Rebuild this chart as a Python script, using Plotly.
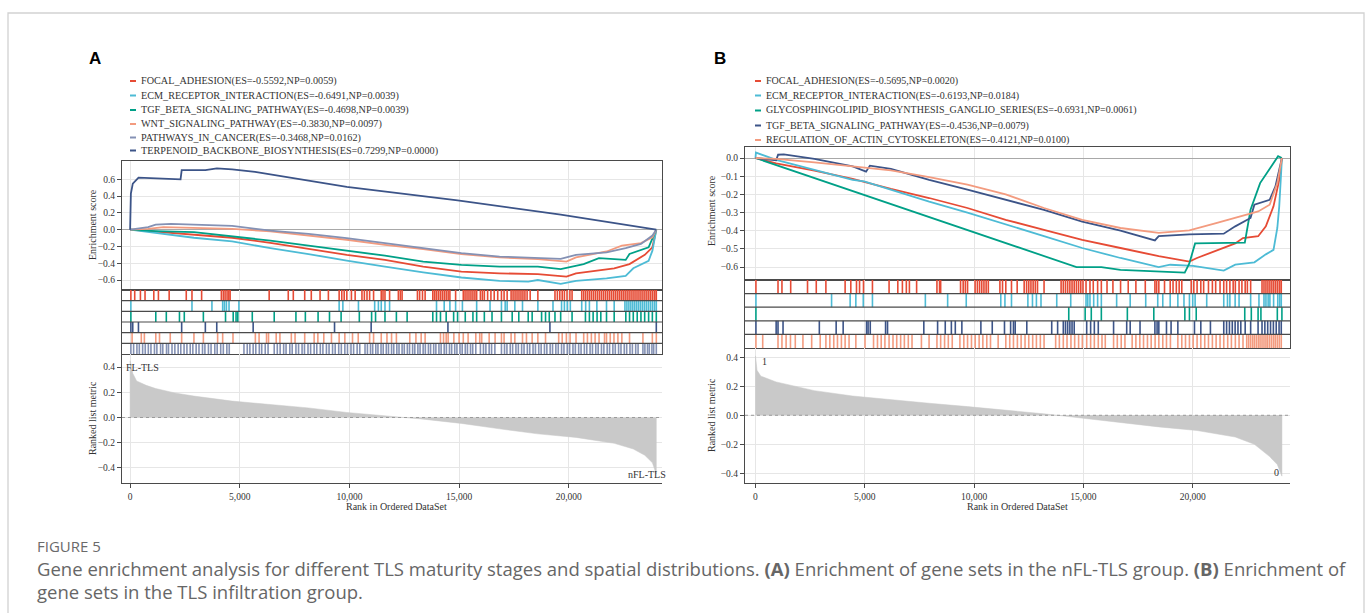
import plotly.graph_objects as go

W, H = 1372, 613

# ---------------- Panel A data ----------------
A_names = ["FOCAL_ADHESION", "ECM_RECEPTOR_INTERACTION", "TGF_BETA_SIGNALING_PATHWAY",
           "WNT_SIGNALING_PATHWAY", "PATHWAYS_IN_CANCER", "TERPENOID_BACKBONE_BIOSYNTHESIS"]
A_es = [-0.5592, -0.6491, -0.4698, -0.3830, -0.3468, 0.7299]
A_np = [0.0059, 0.0039, 0.0039, 0.0097, 0.0162, 0.0000]

A_focal_rank = [0, 1167, 2909, 4651, 6393, 8135, 9877, 11619, 13361, 15103, 16845, 18587, 19894, 20329, 22071, 22768, 23465, 23813, 23990]
A_focal_es = [0, -0.024, -0.056, -0.096, -0.156, -0.23, -0.30, -0.36, -0.44, -0.50, -0.52, -0.53, -0.559, -0.52, -0.46, -0.41, -0.30, -0.21, 0]
A_ecm_rank = [0, 1167, 2909, 4651, 6393, 8135, 9877, 11619, 13361, 15103, 16845, 18152, 18587, 19633, 20329, 21723, 22594, 22942, 23639, 23813, 23990]
A_ecm_es = [0, -0.04, -0.096, -0.14, -0.22, -0.29, -0.37, -0.44, -0.51, -0.57, -0.61, -0.62, -0.60, -0.645, -0.61, -0.58, -0.55, -0.46, -0.37, -0.25, 0]
A_tgf_rank = [0, 1167, 2909, 4651, 6393, 8135, 9877, 11619, 13361, 15103, 16845, 18587, 19633, 20678, 21374, 22594, 22768, 23639, 23990]
A_tgf_es = [0, -0.016, -0.03, -0.08, -0.13, -0.19, -0.25, -0.31, -0.38, -0.42, -0.44, -0.44, -0.47, -0.41, -0.34, -0.36, -0.29, -0.21, 0]
A_wnt_rank = [0, 819, 1516, 2909, 4651, 6393, 8135, 9877, 11619, 13361, 15103, 16845, 18587, 19894, 20329, 21723, 22420, 23290, 23813, 23990]
A_wnt_es = [0, 0.01, 0.03, 0.025, 0.01, -0.02, -0.07, -0.12, -0.18, -0.23, -0.29, -0.33, -0.35, -0.38, -0.33, -0.26, -0.19, -0.16, -0.09, 0]
A_pic_rank = [0, 819, 1167, 1864, 2909, 4651, 6393, 8135, 9877, 11619, 13361, 15103, 16845, 18587, 19633, 20329, 21723, 22594, 23290, 23813, 23990]
A_pic_es = [0, 0.03, 0.06, 0.07, 0.06, 0.045, -0.01, -0.05, -0.10, -0.16, -0.22, -0.28, -0.32, -0.34, -0.347, -0.30, -0.27, -0.22, -0.17, -0.07, 0]
A_terp_rank = [0, 35, 122, 383, 2300, 2352, 3432, 3954, 4651, 5696, 9877, 14930, 19633, 23990]
A_terp_es = [0, 0.43, 0.55, 0.62, 0.60, 0.71, 0.71, 0.73, 0.72, 0.69, 0.51, 0.35, 0.18, 0]

A_focal_hits = [35, 210, 470, 680, 1080, 1290, 1780, 2560, 2820, 3260, 4160, 4250, 4330, 4420, 4500, 4560, 6340, 7210, 7440, 7960, 8260, 8660, 9040, 9530, 9650, 9760, 9880, 10090, 10260, 10570, 10680, 10800, 10920, 11100, 11450, 11530, 11620, 11830, 12230, 12320, 12400, 13100, 13200, 13330, 13450, 13800, 13880, 13960, 14050, 14140, 14230, 14320, 14410, 14500, 14580, 14840, 15190, 15270, 15360, 15450, 15540, 15630, 15720, 15800, 15970, 16060, 16150, 16300, 16450, 16600, 16760, 16930, 17050, 17190, 17370, 17460, 17550, 17640, 17730, 17820, 17910, 18000, 18100, 18240, 18590, 19370, 19480, 19590, 19700, 19800, 19920, 20050, 20150, 20590, 20680, 20770, 20860, 20950, 21040, 21130, 21220, 21310, 21400, 21490, 21580, 21670, 21760, 21850, 21940, 22030, 22120, 22210, 22300, 22390, 22480, 22570, 22660, 22750, 22840, 22930, 23020, 23110, 23200, 23290, 23380, 23470, 23560, 23650, 23740, 23830, 23920, 23990]
A_ecm_hits = [35, 2820, 3730, 4220, 4300, 4390, 4510, 4960, 9530, 9700, 10410, 11150, 11320, 11450, 11620, 11830, 13970, 14320, 14580, 14840, 15150, 15800, 16410, 16930, 17100, 17190, 17540, 17890, 18590, 19280, 19670, 19800, 19930, 20070, 20590, 20770, 20940, 21280, 21720, 22070, 22560, 22650, 22740, 22830, 22920, 23010, 23100, 23190, 23280, 23370, 23460, 23550, 23640, 23730, 23820, 23910, 23990]
A_tgf_hits = [35, 1170, 1650, 2250, 2470, 3340, 4350, 4700, 4830, 4910, 5570, 6570, 7560, 7990, 8570, 9090, 9620, 10450, 11010, 11190, 11620, 12140, 12630, 13800, 13970, 14150, 14410, 14750, 14930, 15280, 15630, 15800, 16150, 16500, 16930, 17420, 17720, 18150, 18330, 18760, 18940, 19110, 19370, 19630, 20150, 20760, 20940, 21110, 21290, 21460, 21720, 22070, 22600, 22770, 22940, 23120, 23290, 23460, 23640, 23810, 23990]
A_terp_hits = [35, 120, 380, 2350, 3430, 3950, 5610, 9320, 10990, 14490, 19140, 23990]
A_wnt_hits = [90, 510, 650, 1170, 1340, 1830, 2350, 2910, 3340, 3990, 4220, 4690, 5710, 5880, 6220, 6310, 6660, 6830, 7350, 7520, 7960, 8390, 8560, 8830, 9180, 9530, 9790, 10140, 10400, 10920, 11100, 11450, 11710, 11920, 12140, 12750, 13030, 13270, 13450, 14150, 14290, 14410, 14500, 14760, 15000, 15190, 15410, 15760, 15940, 16030, 16370, 16640, 16930, 17050, 17370, 17540, 17890, 18070, 18330, 18590, 18940, 19540, 19700, 19890, 20060, 20330, 20680, 20850, 21030, 21200, 21380, 21630, 21720, 21890, 22060, 22240, 22420, 22770, 23380, 23810, 23990]
A_pic_hits = [35, 160, 310, 420, 570, 690, 830, 950, 1110, 1220, 1390, 1490, 1660, 1750, 1910, 2040, 2190, 2310, 2460, 2590, 2740, 2860, 3010, 3140, 3300, 3410, 3570, 3690, 3860, 3970, 4130, 4250, 4410, 4520,
              5190, 5340, 5460, 5610, 5730, 5890, 6000, 6160, 6290,
              6570, 6710, 6840, 7000, 7110, 7280, 7390, 7560, 7680, 7840, 7950, 8110, 8230, 8390, 8510, 8670, 8790, 8950, 9070, 9230, 9350, 9510, 9630, 9790, 9910, 10070, 10190, 10350, 10470,
              10710, 10820, 10960, 11060, 11200, 11300, 11440, 11540, 11680, 11780, 11920, 12020, 12160, 12260, 12400, 12500, 12640, 12740, 12880, 12980, 13120, 13220, 13360, 13460, 13600, 13700, 13840, 13940, 14080, 14180, 14320, 14420, 14560, 14660, 14800, 14900, 15040, 15140, 15280, 15380, 15520, 15620, 15760,
              15970, 16110, 16220, 16370, 16480, 16630,
              16930, 17070, 17180, 17330, 17440, 17590, 17700, 17850, 17960, 18110, 18220, 18370, 18480, 18630, 18740, 18890, 19000, 19150, 19260, 19410, 19520, 19670, 19780, 19930, 20040, 20190, 20300, 20450, 20560, 20710, 20820, 20970, 21080, 21230, 21340, 21490, 21600, 21750, 21860, 22010, 22120, 22270, 22380, 22530, 22640, 22790, 22900, 23050, 23160,
              23380, 23470, 23590, 23670, 23790, 23870, 23990]

A_metric_rank = [0, 0, 122, 296, 732, 1167, 2038, 2909, 4651, 6393, 8135, 9877, 11619, 12490, 13361, 15103, 16845, 18587, 20329, 22071, 22942, 23465, 23813, 23990, 23990]
A_metric_val = [0, 0.45, 0.35, 0.29, 0.255, 0.23, 0.195, 0.17, 0.13, 0.10, 0.076, 0.04, 0.01, 0.0, -0.013, -0.047, -0.09, -0.13, -0.158, -0.205, -0.25, -0.30, -0.36, -0.45, 0]

# ---------------- Panel B data ----------------
B_names = ["FOCAL_ADHESION", "ECM_RECEPTOR_INTERACTION", "GLYCOSPHINGOLIPID_BIOSYNTHESIS_GANGLIO_SERIES",
           "TGF_BETA_SIGNALING_PATHWAY", "REGULATION_OF_ACTIN_CYTOSKELETON"]
B_es = [-0.5695, -0.6193, -0.6931, -0.4536, -0.4121]
B_np = [0.0020, 0.0184, 0.0061, 0.0079, 0.0100]

B_focal_rank = [0, 945, 2695, 4445, 6195, 7945, 9695, 11445, 13195, 14945, 16695, 18445, 19845, 20195, 21945, 22295, 22995, 23345, 23695, 23958, 24080]
B_focal_es = [0, -0.03, -0.07, -0.115, -0.17, -0.22, -0.275, -0.34, -0.395, -0.45, -0.495, -0.54, -0.5695, -0.55, -0.47, -0.44, -0.43, -0.376, -0.266, -0.12, 0]
B_ecm_rank = [0, 20, 945, 2695, 4445, 4970, 6195, 7945, 9695, 11445, 13195, 14945, 16695, 18445, 18970, 20020, 21420, 21945, 22820, 23345, 23695, 23870, 23958, 24045, 24080]
B_ecm_es = [0, 0.03, -0.01, -0.064, -0.12, -0.128, -0.174, -0.24, -0.30, -0.367, -0.43, -0.495, -0.55, -0.60, -0.587, -0.593, -0.6193, -0.587, -0.574, -0.53, -0.505, -0.385, -0.266, -0.08, 0]
B_gly_rank = [0, 14683, 15820, 16695, 19635, 19845, 20108, 22383, 22645, 23083, 23905, 24080]
B_gly_es = [0, -0.60, -0.60, -0.615, -0.63, -0.58, -0.47, -0.465, -0.285, -0.138, 0.01, 0]
B_tgf_rank = [0, 945, 1033, 1295, 2695, 4445, 5058, 5233, 6195, 7945, 9695, 11445, 13195, 14945, 16695, 18270, 18445, 19845, 21420, 21945, 22645, 22820, 23520, 23783, 24080]
B_tgf_es = [0, -0.013, 0.018, 0.02, -0.005, -0.046, -0.075, -0.042, -0.06, -0.12, -0.174, -0.23, -0.285, -0.35, -0.40, -0.4536, -0.43, -0.42, -0.416, -0.376, -0.33, -0.257, -0.23, -0.156, 0]
B_actin_rank = [0, 945, 2695, 4445, 6195, 7945, 9695, 11445, 13195, 14945, 16695, 18445, 19845, 21070, 21945, 22995, 23520, 23870, 24080]
B_actin_es = [0, -0.005, -0.024, -0.046, -0.068, -0.105, -0.147, -0.20, -0.275, -0.34, -0.385, -0.4121, -0.398, -0.358, -0.33, -0.294, -0.257, -0.138, 0]

B_focal_hits = [20, 1030, 1210, 1610, 2380, 2780, 3220, 4100, 4360, 4620, 4760, 4940, 5350, 6110, 6510, 6720, 6900, 7040, 7370, 8300, 8420, 8470, 9380, 9500, 9600, 9700, 10045, 10150, 10250, 10350, 10450, 10550, 10650, 11180, 11300, 11450, 11710, 11970, 12290, 12400, 12500, 12600, 12700, 12800, 12900, 13200, 13980, 14080, 14180, 14280, 14380, 14480, 14580, 14680, 14780, 14880, 14980, 15120, 15300, 15450, 15650, 15820, 16080, 16350, 16700, 17050, 17400, 17830, 18270, 18350, 18450, 18710, 18970, 19100, 19250, 19380, 19500, 19930, 20050, 20200, 20370, 20500, 20720, 20900, 21050, 21250, 21420, 21550, 21700, 21850, 21950, 22120, 22250, 22400, 22500, 22650, 23170, 23260, 23350, 23440, 23530, 23620, 23710, 23800, 23890, 23980, 24050]
B_ecm_hits = [20, 3480, 4330, 4590, 4930, 5350, 7770, 8790, 9640, 11220, 11410, 11710, 12460, 12670, 12850, 13060, 13780, 14420, 15120, 15200, 15300, 15470, 15650, 15820, 16520, 17140, 17850, 18400, 18630, 18970, 19320, 19600, 19850, 20000, 20110, 20640, 21420, 21590, 21700, 21940, 22120, 22650, 23030, 23260, 23350, 23450, 23530, 23700, 23890, 23980, 24050]
B_gly_hits = [20, 14330, 15080, 15360, 15820, 17010, 18220, 19640, 19850, 20160, 22380, 22680, 22990, 23120, 23870, 24080]
B_tgf_hits = [20, 945, 1030, 1260, 2920, 3690, 4010, 5080, 5150, 5250, 5950, 6040, 7700, 8330, 8680, 8960, 9140, 9440, 10310, 10830, 11390, 11670, 11800, 11880, 12410, 13550, 13820, 14080, 14180, 14280, 14380, 14480, 14580, 15150, 15330, 15500, 15680, 16380, 16980, 17140, 17590, 18270, 18370, 18450, 18800, 19010, 19320, 20080, 20370, 20810, 21420, 21550, 21680, 21810, 21940, 22070, 22200, 22400, 22650, 22990, 23170, 23300, 23430, 23560, 23690, 23820, 23950, 24050]
B_actin_hits = [20, 330, 1030, 1210, 1400, 1600, 1820, 2170, 2570, 2960, 3220, 3400, 3580, 3750, 3930, 4100, 4280, 4590, 5010, 5400, 5580, 5750, 5920, 6110, 6290, 6460, 6640, 6810, 6990, 7160, 7590, 7940, 8300, 8470, 8650, 8820, 9000, 9350, 9530, 9700, 9880, 10050, 10230, 10400, 10580, 10750, 11100, 11450, 11630, 11800, 11980, 12150, 12330, 12500, 12680, 12850, 13030, 13200, 13730, 13900, 14080, 14250, 14430, 14600, 14780, 14950, 15150, 15330, 15500, 15680, 15850, 16000, 16380, 16550, 16730, 16900, 17230, 17400, 17580, 17750, 17930, 18100, 18280, 18450, 18630, 18800, 18980, 19320, 19500, 19670, 19850, 20020, 20200, 20370, 20550, 20720, 20900, 21070, 21250, 21420, 21600, 21770, 21950, 22120, 22300, 22470, 22560, 22650, 22740, 22820, 22910, 23000, 23080, 23170, 23260, 23350, 23430, 23520, 23610, 23700, 23780, 23870, 23960, 24050]

B_metric_rank = [0, 0, 70, 245, 945, 2695, 4445, 6195, 7945, 9695, 11445, 13195, 13807, 14945, 16695, 18445, 20195, 21945, 22820, 23520, 23870, 24080, 24080]
B_metric_val = [0, 0.41, 0.31, 0.27, 0.23, 0.17, 0.133, 0.106, 0.083, 0.06, 0.037, 0.01, 0.0, -0.02, -0.05, -0.08, -0.105, -0.15, -0.20, -0.285, -0.34, -0.42, 0]

x_ticks = [0, 5000, 10000, 15000, 20000]

# ---------------- styles ----------------
RED, LBLUE, GREEN, NAVY, SALMON, SLATE = "#E64B35", "#4DBBD5", "#00A087", "#3C5488", "#F39B7F", "#8491B4"
SERIF = "Liberation Serif"
AX = "#4a4a4a"
GRID = "#e6e6e6"


def xp(px):
    return px / W


def yp(py):
    return 1 - py / H


fig = go.Figure()
shapes = []
annotations = []


def add_panel(k, xpx, es_py, bar_py, rk_py, es_range, es_ticks, rk_range, xrange,
              curves, hits_rows, metric, n_rows):
    i_es, i_bar, i_rk = 3 * k + 1, 3 * k + 2, 3 * k + 3
    nm = lambda i: "" if i == 1 else str(i)
    xdom = [xp(xpx[0]), xp(xpx[1])]
    common_x = dict(domain=xdom, range=xrange, showgrid=True, gridcolor=GRID, gridwidth=1,
                    tickvals=x_ticks, zeroline=False)
    tf = dict(family=SERIF, size=9.5, color="#333")
    fig.layout["xaxis" + nm(i_es)] = dict(common_x, anchor="y" + nm(i_es), showticklabels=False,
                                          showline=True, mirror=True, linecolor=AX, linewidth=1.2, ticks="")
    fig.layout["yaxis" + nm(i_es)] = dict(domain=[yp(es_py[1]), yp(es_py[0])], range=es_range,
                                          anchor="x" + nm(i_es), tickvals=es_ticks, tickformat=".1f",
                                          showgrid=True, gridcolor=GRID, zeroline=True, zerolinecolor="#a8a8a8",
                                          zerolinewidth=1, showline=True, mirror=True, linecolor=AX, linewidth=1.2,
                                          ticks="outside", ticklen=4, tickcolor=AX, tickfont=tf)
    fig.layout["xaxis" + nm(i_bar)] = dict(common_x, anchor="y" + nm(i_bar), showticklabels=False,
                                           showline=True, mirror=True, linecolor=AX, linewidth=1.2, ticks="")
    fig.layout["yaxis" + nm(i_bar)] = dict(domain=[yp(bar_py[1]), yp(bar_py[0])], range=[n_rows, 0],
                                           anchor="x" + nm(i_bar), showgrid=False, zeroline=False,
                                           showticklabels=False, showline=True, mirror=True, linecolor=AX,
                                           linewidth=1.2, ticks="")
    fig.layout["xaxis" + nm(i_rk)] = dict(common_x, anchor="y" + nm(i_rk), showticklabels=True,
                                          tickformat=",d", showline=True, linecolor=AX, linewidth=1.2,
                                          ticks="outside", ticklen=4, tickcolor=AX, tickfont=tf)
    fig.layout["yaxis" + nm(i_rk)] = dict(domain=[yp(rk_py[1]), yp(rk_py[0])], range=rk_range,
                                          anchor="x" + nm(i_rk), tickvals=[-0.4, -0.2, 0, 0.2, 0.4],
                                          tickformat=".1f", showgrid=True, gridcolor=GRID, zeroline=False,
                                          showline=True, linecolor=AX, linewidth=1.2, ticks="outside",
                                          ticklen=4, tickcolor=AX, tickfont=tf)
    fig.add_trace(go.Scatter(x=metric[0], y=metric[1], mode="lines", fill="tozeroy",
                             fillcolor="#c9c9c9", line=dict(color="#c9c9c9", width=0.5),
                             xaxis="x" + nm(i_rk), yaxis="y" + nm(i_rk), hoverinfo="skip", showlegend=False))
    shapes.append(dict(type="line", xref="x" + nm(i_rk) + " domain", yref="y" + nm(i_rk),
                       x0=0, x1=1, y0=0, y1=0, line=dict(color="#9a9a9a", width=1, dash="dot"), layer="above"))
    for rk, es, col in curves:
        fig.add_trace(go.Scatter(x=rk, y=es, mode="lines", line=dict(color=col, width=1.8),
                                 xaxis="x" + nm(i_es), yaxis="y" + nm(i_es), hoverinfo="skip",
                                 showlegend=False))
    for row, (hits, col) in enumerate(hits_rows):
        xs, ys = [], []
        for h in hits:
            xs += [h, h, None]
            ys += [row, row + 1, None]
        fig.add_trace(go.Scatter(x=xs, y=ys, mode="lines", line=dict(color=col, width=1.6),
                                 xaxis="x" + nm(i_bar), yaxis="y" + nm(i_bar), hoverinfo="skip",
                                 showlegend=False))
    for r in range(1, n_rows):
        shapes.append(dict(type="line", xref="x" + nm(i_bar) + " domain", yref="y" + nm(i_bar),
                           x0=0, x1=1, y0=r, y1=r, line=dict(color=AX, width=1.2), layer="above"))


add_panel(0, (122, 662), (161, 290), (290, 354), (354, 483),
          [-0.719, 0.819], [-0.6, -0.4, -0.2, 0, 0.2, 0.4, 0.6], [-0.52, 0.504], [-370, 24250],
          [(A_focal_rank, A_focal_es, RED), (A_ecm_rank, A_ecm_es, LBLUE), (A_tgf_rank, A_tgf_es, GREEN),
           (A_wnt_rank, A_wnt_es, SALMON), (A_pic_rank, A_pic_es, SLATE), (A_terp_rank, A_terp_es, NAVY)],
          [(A_focal_hits, RED), (A_ecm_hits, LBLUE), (A_tgf_hits, GREEN), (A_terp_hits, NAVY),
           (A_wnt_hits, SALMON), (A_pic_hits, SLATE)],
          (A_metric_rank, A_metric_val), 6)

add_panel(1, (745, 1290), (147, 280), (280, 348), (348, 483),
          [-0.671, 0.0605], [-0.6, -0.5, -0.4, -0.3, -0.2, -0.1, 0.0], [-0.467, 0.464], [-480, 24450],
          [(B_focal_rank, B_focal_es, RED), (B_ecm_rank, B_ecm_es, LBLUE), (B_gly_rank, B_gly_es, GREEN),
           (B_tgf_rank, B_tgf_es, NAVY), (B_actin_rank, B_actin_es, SALMON)],
          [(B_focal_hits, RED), (B_ecm_hits, LBLUE), (B_gly_hits, GREEN), (B_tgf_hits, NAVY),
           (B_actin_hits, SALMON)],
          (B_metric_rank, B_metric_val), 5)

A_leg_colors = [RED, LBLUE, GREEN, SALMON, SLATE, NAVY]
A_leg_y = [81, 95.5, 110, 124, 137.5, 150.5]
for name, es, npv, col, y in zip(A_names, A_es, A_np, A_leg_colors, A_leg_y):
    shapes.append(dict(type="line", xref="paper", yref="paper", x0=xp(130), x1=xp(136),
                       y0=yp(y), y1=yp(y), line=dict(color=col, width=2)))
    annotations.append(dict(x=xp(139), y=yp(y), xref="paper", yref="paper", xanchor="left",
                            yanchor="middle", showarrow=False,
                            text=f"{name}(ES={es:.4f},NP={npv:.4f})",
                            font=dict(family=SERIF, size=10.2, color="#333")))
B_leg_colors = [RED, LBLUE, GREEN, NAVY, SALMON]
B_leg_y = [81, 95.5, 110.5, 125.5, 140]
for name, es, npv, col, y in zip(B_names, B_es, B_np, B_leg_colors, B_leg_y):
    shapes.append(dict(type="line", xref="paper", yref="paper", x0=xp(755), x1=xp(761),
                       y0=yp(y), y1=yp(y), line=dict(color=col, width=2)))
    annotations.append(dict(x=xp(764), y=yp(y), xref="paper", yref="paper", xanchor="left",
                            yanchor="middle", showarrow=False,
                            text=f"{name}(ES={es:.4f},NP={npv:.4f})",
                            font=dict(family=SERIF, size=10.0, color="#333")))


def txt(x, y, s, size=10, xanchor="center", angle=0, family=SERIF, color="#333", yanchor="middle"):
    annotations.append(dict(x=xp(x), y=yp(y), xref="paper", yref="paper", text=s, showarrow=False,
                            xanchor=xanchor, yanchor=yanchor, textangle=angle,
                            font=dict(family=family, size=size, color=color)))


txt(95, 58, "<b>A</b>", size=17, family="Liberation Sans", color="#000")
txt(720, 58, "<b>B</b>", size=17, family="Liberation Sans", color="#000")
txt(92, 225, "Enrichment score", angle=-90)
txt(92, 418, "Ranked list metric", angle=-90)
txt(396, 506, "Rank in Ordered DataSet")
txt(711, 210, "Enrichment score", angle=-90)
txt(711, 415, "Ranked list metric", angle=-90)
txt(1018, 506, "Rank in Ordered DataSet")
txt(124, 367, "FL-TLS", xanchor="left")
txt(668, 474, "nFL-TLS", xanchor="right")
txt(760, 361, "1", xanchor="left")
txt(1281, 472, "0", xanchor="right")

txt(35, 546, "FIGURE 5", size=15, family="Open Sans", color="#6a6a6a", xanchor="left")
txt(35, 568, "Gene enrichment analysis for different TLS maturity stages and spatial distributions. "
             "<b>(A)</b> Enrichment of gene sets in the nFL-TLS group. <b>(B)</b> Enrichment of",
    size=18.5, family="Open Sans", color="#666", xanchor="left")
txt(35, 591, "gene sets in the TLS infiltration group.", size=18.5, family="Open Sans", color="#666",
    xanchor="left")

shapes.append(dict(type="rect", xref="paper", yref="paper", x0=xp(8), x1=xp(1364), y0=yp(640), y1=yp(13),
                   line=dict(color="#d2d2d2", width=1.3), fillcolor="rgba(0,0,0,0)", layer="below"))

fig.update_layout(width=W, height=H, margin=dict(l=0, r=0, t=0, b=0), paper_bgcolor="white",
                  plot_bgcolor="white", showlegend=False, shapes=shapes, annotations=annotations)

fig.write_html("out.html", config={"displayModeBar": False},
               post_script="document.body.style.margin='0';document.body.style.overflow='hidden';")
